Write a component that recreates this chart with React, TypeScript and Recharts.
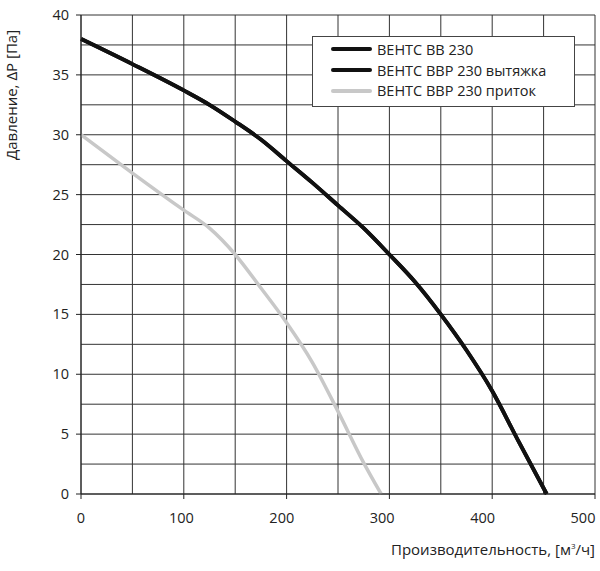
import React from 'react';
import { LineChart, Line, XAxis, YAxis, CartesianGrid, Legend } from 'recharts';

const FONT = '"Open Sans", "DejaVu Sans", sans-serif';

const xTicks = [0, 50, 100, 150, 200, 250, 300, 350, 400, 450, 500];
const yTicks = [0, 2.5, 5, 7.5, 10, 12.5, 15, 17.5, 20, 22.5, 25, 27.5, 30, 32.5, 35, 37.5, 40];

const bb230 = [
  { x: 0, y: 38 }, { x: 50, y: 35.9 }, { x: 100, y: 33.7 }, { x: 125, y: 32.5 },
  { x: 150, y: 31.1 }, { x: 175, y: 29.6 }, { x: 200, y: 27.8 }, { x: 225, y: 26.0 },
  { x: 250, y: 24.1 }, { x: 275, y: 22.2 }, { x: 300, y: 20.0 }, { x: 325, y: 17.7 },
  { x: 350, y: 15.0 }, { x: 375, y: 12.0 }, { x: 400, y: 8.6 }, { x: 425, y: 4.5 },
  { x: 453, y: 0 },
];

const bbp230Exhaust = [
  { x: 0, y: 38 }, { x: 50, y: 35.9 }, { x: 100, y: 33.7 }, { x: 125, y: 32.5 },
  { x: 150, y: 31.1 }, { x: 175, y: 29.6 }, { x: 200, y: 27.8 }, { x: 225, y: 26.0 },
  { x: 250, y: 24.1 }, { x: 275, y: 22.2 }, { x: 300, y: 20.0 }, { x: 325, y: 17.7 },
  { x: 350, y: 15.0 }, { x: 375, y: 12.0 }, { x: 400, y: 8.6 }, { x: 425, y: 4.5 },
  { x: 453, y: 0 },
];

const bbp230Supply = [
  { x: 0, y: 30 }, { x: 50, y: 26.8 }, { x: 100, y: 23.7 }, { x: 125, y: 22.2 },
  { x: 150, y: 20.0 }, { x: 175, y: 17.2 }, { x: 200, y: 14.3 }, { x: 225, y: 11.0 },
  { x: 250, y: 6.9 }, { x: 275, y: 2.6 }, { x: 292, y: 0 },
];

const YTick = (props: any) => {
  const { x, y, payload } = props;
  const v = payload.value;
  if (v % 5 !== 0) return <g />;
  return (
    <g>
      <line x1={x - 5} x2={x} y1={y} y2={y} stroke="#222" strokeWidth={1} />
      <text x={x - 12} y={y} dy="0.35em" textAnchor="end" fontFamily={FONT} fontSize={14.5} fill="#222">
        {v}
      </text>
    </g>
  );
};

const XTick = (props: any) => {
  const { x, y, payload } = props;
  const v = payload.value;
  if (v % 100 !== 0) return <g />;
  // the reference's labels drift slightly left of their grid lines toward the right end
  const shift = -0.024 * v;
  return (
    <g>
      <line x1={x} x2={x} y1={y} y2={y + 5} stroke="#222" strokeWidth={1} />
      <text x={x + shift} y={y + 24} dy="0.35em" textAnchor="middle" fontFamily={FONT} fontSize={14.5} fill="#222">
        {v}
      </text>
    </g>
  );
};

const LegendBox = (props: any) => {
  const { payload } = props;
  return (
    <div
      style={{
        width: 263,
        height: 71,
        boxSizing: 'border-box',
        border: '1px solid #444',
        background: '#fff',
        paddingTop: 2,
        fontFamily: FONT,
        fontSize: 14.5,
        color: '#222',
      }}
    >
      {(payload || []).map((p: any, i: number) => (
        <div key={i} style={{ height: 20.8, display: 'flex', alignItems: 'center', marginLeft: 18 }}>
          <div style={{ width: 41, height: 4, borderRadius: 2, background: p.color, marginRight: 5 }} />
          <span style={{ whiteSpace: 'nowrap' }}>{p.value}</span>
        </div>
      ))}
    </div>
  );
};

export default function App() {
  return (
    <div style={{ position: 'absolute', left: 0, top: 0, width: 600, height: 571, background: '#fff' }}>
      <LineChart width={600} height={571} margin={{ top: 15, right: 5, left: 51, bottom: 47 }}>
        <CartesianGrid stroke="#333" strokeWidth={1} />
        <XAxis
          type="number"
          dataKey="x"
          domain={[0, 500]}
          ticks={xTicks}
          interval={0}
          height={30}
          tickSize={0}
          tickMargin={0}
          tickLine={false}
          axisLine={{ stroke: '#222' }}
          tick={<XTick />}
          label={{
            content: () => (
              <text x={595} y={550} dy="0.35em" textAnchor="end" fontFamily={FONT} fontSize={15} fill="#222">
                Производительность, [м<tspan dy={-6} fontSize={8}>3</tspan>
                <tspan dy={6}>/ч]</tspan>
              </text>
            ),
          }}
        />
        <YAxis
          type="number"
          domain={[0, 40]}
          ticks={yTicks}
          interval={0}
          width={30}
          tickSize={0}
          tickMargin={0}
          tickLine={false}
          axisLine={{ stroke: '#222' }}
          tick={<YTick />}
          label={{
            content: () => (
              <text
                transform="translate(12,95) rotate(-90)"
                dy="0.35em"
                textAnchor="middle"
                fontFamily={FONT}
                fontSize={15}
                fill="#222"
              >
                Давление, ΔP [Па]
              </text>
            ),
          }}
        />
        <Legend
          layout="vertical"
          align="center"
          verticalAlign="middle"
          content={<LegendBox />}
          wrapperStyle={{ left: 312, top: 36, width: 263, height: 71 }}
        />
        <Line
          name="ВЕНТС ВВ 230"
          data={bb230}
          dataKey="y"
          type="monotone"
          stroke="#111"
          strokeWidth={3.8}
          dot={false}
          activeDot={false}
          isAnimationActive={false}
        />
        <Line
          name="ВЕНТС ВВР 230 вытяжка"
          data={bbp230Exhaust}
          dataKey="y"
          type="monotone"
          stroke="#111"
          strokeWidth={3.8}
          dot={false}
          activeDot={false}
          isAnimationActive={false}
        />
        <Line
          name="ВЕНТС ВВР 230 приток"
          data={bbp230Supply}
          dataKey="y"
          type="monotone"
          stroke="#c8c8c8"
          strokeWidth={3.5}
          dot={false}
          activeDot={false}
          isAnimationActive={false}
        />
      </LineChart>
    </div>
  );
}
